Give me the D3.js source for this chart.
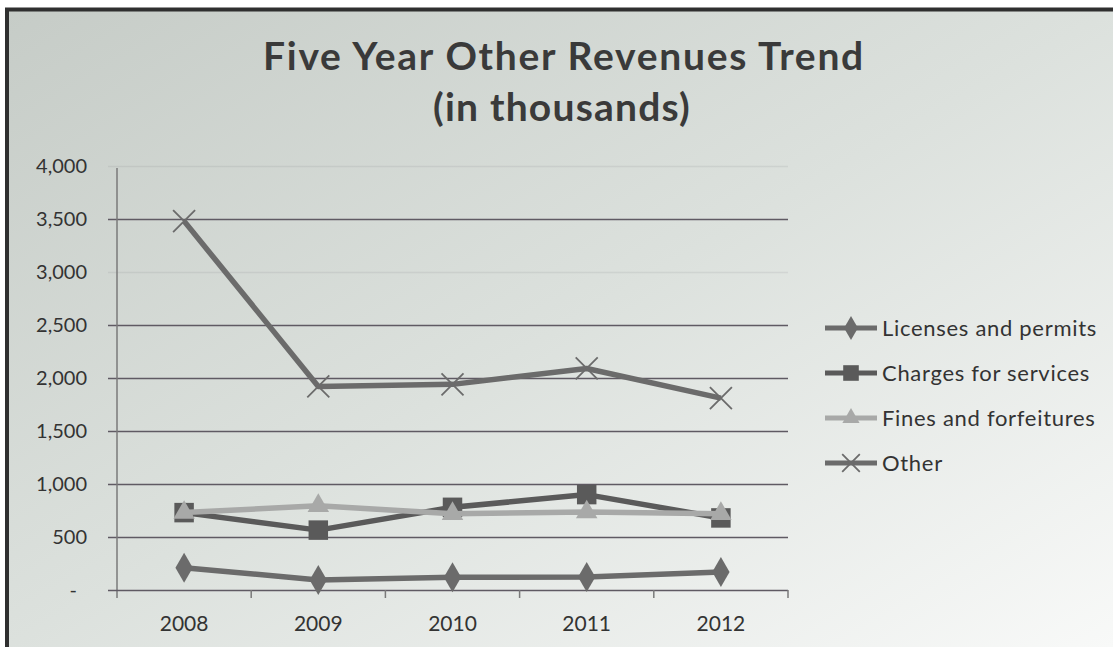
<!DOCTYPE html>
<html>
<head>
<meta charset="utf-8">
<title>Five Year Other Revenues Trend</title>
<style>
  html, body { margin: 0; padding: 0; background: #fff; }
  text { font-family: Lato, "Open Sans", sans-serif; }
</style>
</head>
<body>
<div id="vis"></div>
<script src="https://cdn.jsdelivr.net/npm/d3@7/dist/d3.min.js"></script>
<script>
  var years = ['2008', '2009', '2010', '2011', '2012'];
  var seriesNames = ['Licenses and permits', 'Charges for services', 'Fines and forfeitures', 'Other'];
  var licenses = [210, 95, 120, 123, 170];
  var charges = [730, 565, 780, 900, 680];
  var fines = [730, 795, 720, 735, 720];
  var other = [3480, 1920, 1940, 2090, 1810];
  var yTicks = [0, 500, 1000, 1500, 2000, 2500, 3000, 3500, 4000];

  var width = 1113, height = 647;
  var m = {left: 117, right: 325, top: 166, bottom: 57};

  var svg = d3.select('#vis').append('svg').attr('width', width).attr('height', height);

  var defs = svg.append('defs');
  var grad = defs.append('linearGradient').attr('id', 'bg')
    .attr('x1', '0%').attr('y1', '0%').attr('x2', '100%').attr('y2', '100%');
  grad.append('stop').attr('offset', '0%').attr('stop-color', '#c6ccc7');
  grad.append('stop').attr('offset', '50%').attr('stop-color', '#dce1dd');
  grad.append('stop').attr('offset', '100%').attr('stop-color', '#f8f9f8');

  svg.append('rect').attr('width', width).attr('height', height).attr('fill', '#fff');
  svg.append('rect').attr('x', 7).attr('y', 10).attr('width', width - 7).attr('height', height - 10)
    .attr('fill', 'url(#bg)');
  // frame
  svg.append('line').attr('x1', 5).attr('x2', width).attr('y1', 9.5).attr('y2', 9.5)
    .attr('stroke', '#2f2f2f').attr('stroke-width', 4);
  svg.append('line').attr('x1', 7).attr('x2', 7).attr('y1', 8).attr('y2', height)
    .attr('stroke', '#2f2f2f').attr('stroke-width', 4);

  var x = d3.scaleBand().domain(years).range([m.left, width - m.right]);
  var y = d3.scaleLinear().domain([0, 4000]).range([height - m.bottom, m.top]);

  // gridlines (3,000 and 4,000 are almost faded out in the scan)
  var faint = function(d){ return d === 3000 || d === 4000; };
  svg.append('g').selectAll('line').data(yTicks.filter(function(d){ return d > 0; })).enter().append('line')
    .attr('x1', m.left - 9).attr('x2', width - m.right)
    .attr('y1', function(d){ return Math.round(y(d)) + 0.5; })
    .attr('y2', function(d){ return Math.round(y(d)) + 0.5; })
    .attr('stroke', function(d){ return faint(d) ? 'rgba(90,90,100,0.1)' : '#5f5a63'; })
    .attr('stroke-width', 1.5);

  var yAxis = d3.axisLeft(y).tickValues(yTicks).tickSize(0).tickPadding(30)
    .tickFormat(function(d){ return d === 0 ? '-' : d3.format(',')(d); });
  var gy = svg.append('g').attr('transform', 'translate(' + m.left + ',0)').call(yAxis);
  gy.select('.domain').attr('d', 'M0,' + (m.top + 2) + 'V' + (height - m.bottom + 8))
    .attr('stroke', '#7a7a7a').attr('stroke-width', 1.5);
  gy.selectAll('.tick text').attr('font-size', 20).attr('fill', '#333')
    .attr('dx', function(d){ return d === 0 ? -10 : 0; });

  var gx = svg.append('g').attr('transform', 'translate(0,' + (height - m.bottom) + ')');
  gx.append('line').attr('x1', m.left - 9).attr('x2', width - m.right).attr('y1', 0.5).attr('y2', 0.5)
    .attr('stroke', '#5f5a63').attr('stroke-width', 1.5);
  var bounds = years.map(function(d){ return x(d); }).concat([x.range()[1]]);
  gx.selectAll('.xt').data(bounds.slice(1)).enter().append('line').attr('class', 'xt')
    .attr('x1', function(d){ return d; }).attr('x2', function(d){ return d; })
    .attr('y1', 0).attr('y2', 8).attr('stroke', '#7a7a7a').attr('stroke-width', 1.5);
  gx.selectAll('text').data(years).enter().append('text')
    .attr('x', function(d){ return x(d) + x.bandwidth() / 2; })
    .attr('y', 41).attr('text-anchor', 'middle').attr('font-size', 21).attr('fill', '#333')
    .text(function(d){ return d; });

  // title
  svg.append('text').attr('x', 564).attr('y', 70).attr('text-anchor', 'middle')
    .attr('font-size', 39).attr('font-weight', 'bold').attr('fill', '#3a3a3a')
    .attr('letter-spacing', 1.7)
    .text('Five Year Other Revenues Trend');
  svg.append('text').attr('x', 562).attr('y', 121).attr('text-anchor', 'middle')
    .attr('font-size', 39).attr('font-weight', 'bold').attr('fill', '#3a3a3a')
    .attr('letter-spacing', 1.2)
    .text('(in thousands)');

  var series = [
    {name: seriesNames[0], values: licenses, color: '#6b6b6b', marker: d3.symbolDiamond, size: 260},
    {name: seriesNames[1], values: charges, color: '#5a5a5a', marker: d3.symbolSquare, size: 380},
    {name: seriesNames[2], values: fines, color: '#a8a9a8', marker: d3.symbolTriangle, size: 200},
    {name: seriesNames[3], values: other, color: '#6b6b6b', marker: 'x', size: 0}
  ];

  var line = d3.line()
    .x(function(d, i){ return x(years[i]) + x.bandwidth() / 2; })
    .y(function(d){ return y(d); });

  function drawMarker(g, s, cx, cy, scale) {
    if (s.marker === 'x') {
      var r = 11 * scale;
      g.append('path').attr('d', 'M' + (cx - r) + ',' + (cy - r) + 'L' + (cx + r) + ',' + (cy + r) +
        'M' + (cx - r) + ',' + (cy + r) + 'L' + (cx + r) + ',' + (cy - r))
        .attr('stroke', s.color).attr('stroke-width', 1.8).attr('fill', 'none');
    } else {
      g.append('path').attr('d', d3.symbol().type(s.marker).size(s.size * scale * scale)())
        .attr('transform', 'translate(' + cx + ',' + cy + ')').attr('fill', s.color);
    }
  }

  series.forEach(function(s){
    var g = svg.append('g');
    g.append('path').attr('d', line(s.values)).attr('fill', 'none')
      .attr('stroke', s.color).attr('stroke-width', 5.5).attr('stroke-linejoin', 'round');
    s.values.forEach(function(v, i){
      drawMarker(g, s, x(years[i]) + x.bandwidth() / 2, y(v), 1);
    });
  });

  // legend
  var leg = svg.append('g');
  series.forEach(function(s, i){
    var ly = 328 + i * 45;
    var g = leg.append('g');
    g.append('line').attr('x1', 825).attr('x2', 877).attr('y1', ly).attr('y2', ly)
      .attr('stroke', s.color).attr('stroke-width', 5);
    drawMarker(g, s, 851, ly, 0.8);
    g.append('text').attr('x', 882).attr('y', ly + 8)
      .attr('font-size', 22).attr('letter-spacing', 0.7).attr('fill', '#333').text(s.name);
  });
</script>
</body>
</html>
